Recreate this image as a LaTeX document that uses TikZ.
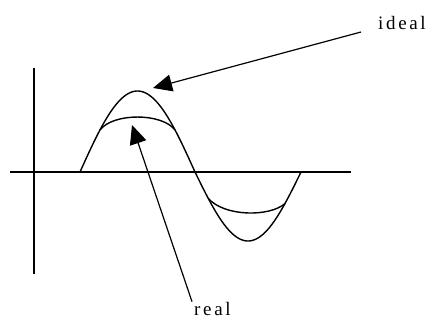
\documentclass[tikz,border=0pt]{standalone}
\usepackage{fontspec}
\setmainfont{Liberation Serif}
\newfontfamily\lblfont[LetterSpace=14]{Liberation Serif}
\usetikzlibrary{arrows.meta}
\begin{document}
\begin{tikzpicture}[x=1pt,y=-1pt,
  curve/.style={line width=1.4pt, line join=round},
  axis/.style={line width=1.4pt},
  pointer/.style={line width=1.2pt, -{Triangle[length=19pt,width=17pt]}},
  lbl/.style={inner sep=0pt, font=\lblfont\fontsize{19}{21}\selectfont}]
\useasboundingbox (0,0) rectangle (430,320);
\fill[white] (0,0) rectangle (430,320);
% axes
\draw[axis] (34,68) -- (34,274);
\draw[axis] (10,172) -- (351,172);
% ideal curve
\draw[curve] plot[domain=80:195, samples=60] (\x, {172-81*sin(1.565217*(\x-80))})
  -- plot[domain=195:301, samples=60] (\x, {172+69*sin(1.698113*(\x-195))});
% real curve (compressed peaks)
\draw[curve] (100,130) .. controls (113,112.7) and (162,112.7) .. (175,130);
\draw[curve] (208,198) .. controls (224,217) and (270,217) .. (285,203.5);
% labels
\node[lbl, anchor=base west] (ideal) at (378,30) {ideal};
\node[lbl, anchor=base west] (real) at (194,315) {real};
\coordinate (idealtip) at (153,88);
\coordinate (realtip) at (132,125);
\draw[pointer] ([shift={(-17,2)}]ideal.base west) -- (idealtip);
\draw[pointer] ([shift={(-2,0)}]real.north west) -- (realtip);
\end{tikzpicture}
\end{document}
